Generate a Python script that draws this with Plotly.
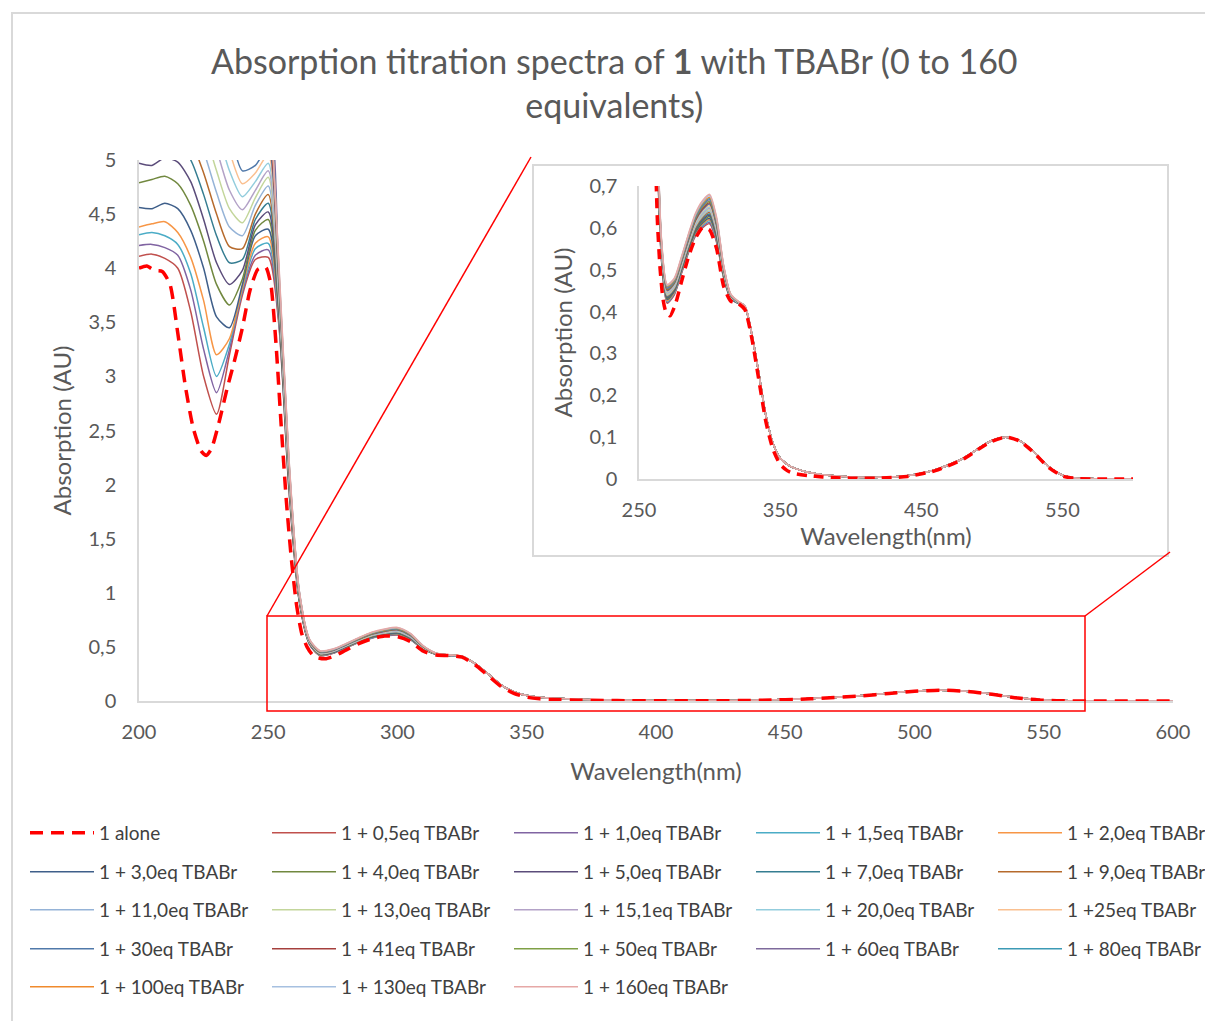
import plotly.graph_objects as go

# wavelength grids (nm)
WL_UV = [200, 205, 210, 215, 220, 225, 230, 235, 240, 245, 250]
WL_BAND = [254, 258, 262, 266, 270, 275, 280, 285, 290, 295, 300, 305, 310, 315, 320, 325]
WL_VIS = [330, 335, 340, 345, 350, 355, 360, 370, 380, 390, 400, 420, 440, 460, 480, 490,
          500, 510, 520, 530, 540, 550, 560, 570, 580, 600]

# compound 1 alone
WL_FREE = [200, 203, 206, 209, 212, 215, 218, 221, 224, 226, 228, 231, 234, 237, 240, 243, 246,
           249, 251, 253, 255, 257, 259, 261, 263, 265, 267, 269, 272, 276, 280, 285, 290, 295,
           300, 305, 310, 315, 320, 325, 330, 335, 340, 345, 350, 355, 360, 370, 380, 390, 400,
           420, 440, 460, 480, 490, 500, 510, 520, 530, 540, 550, 560, 570, 580, 600]
ABS_FREE = [4.00, 4.02, 3.98, 3.97, 3.85, 3.40, 2.90, 2.52, 2.31, 2.27, 2.33, 2.58, 2.88, 3.15,
            3.45, 3.80, 3.99, 4.01, 3.85, 3.30, 2.55, 1.85, 1.30, 0.88, 0.62, 0.50, 0.43, 0.40,
            0.39, 0.42, 0.47, 0.53, 0.575, 0.60, 0.595, 0.55, 0.46, 0.425, 0.42, 0.405, 0.335,
            0.235, 0.135, 0.07, 0.035, 0.02, 0.013, 0.008, 0.005, 0.003, 0.002, 0.002, 0.006,
            0.02, 0.048, 0.07, 0.09, 0.10, 0.09, 0.062, 0.028, 0.007, 0.001, 0.0, 0.0, 0.0]

SALT_LABELS = ["1 + 0,5eq TBABr", "1 + 1,0eq TBABr", "1 + 1,5eq TBABr", "1 + 2,0eq TBABr",
               "1 + 3,0eq TBABr", "1 + 4,0eq TBABr", "1 + 5,0eq TBABr", "1 + 7,0eq TBABr",
               "1 + 9,0eq TBABr", "1 + 11,0eq TBABr", "1 + 13,0eq TBABr", "1 + 15,1eq TBABr",
               "1 + 20,0eq TBABr", "1 +25eq TBABr", "1 + 30eq TBABr", "1 + 41eq TBABr",
               "1 + 50eq TBABr", "1 + 60eq TBABr", "1 + 80eq TBABr", "1 + 100eq TBABr",
               "1 + 130eq TBABr", "1 + 160eq TBABr"]

UV_ABS = [
    [4.11, 4.13, 4.09, 4.00, 3.60, 3.00, 2.65, 3.20, 3.75, 4.08, 4.10],
    [4.21, 4.22, 4.19, 4.12, 3.80, 3.25, 2.85, 3.25, 3.78, 4.12, 4.17],
    [4.31, 4.33, 4.30, 4.22, 3.95, 3.45, 3.00, 3.30, 3.80, 4.18, 4.23],
    [4.38, 4.41, 4.43, 4.33, 4.10, 3.70, 3.20, 3.35, 3.82, 4.23, 4.29],
    [4.56, 4.55, 4.60, 4.55, 4.35, 4.00, 3.55, 3.45, 3.85, 4.30, 4.36],
    [4.79, 4.82, 4.85, 4.78, 4.58, 4.25, 3.85, 3.66, 3.90, 4.35, 4.45],
    [4.97, 4.95, 5.02, 4.98, 4.80, 4.45, 4.05, 3.85, 3.98, 4.40, 4.52],
    [5.15, 5.18, 5.20, 5.15, 5.00, 4.68, 4.30, 4.05, 4.08, 4.45, 4.60],
    [5.30, 5.35, 5.38, 5.32, 5.18, 4.88, 4.50, 4.20, 4.18, 4.50, 4.68],
    [5.45, 5.50, 5.52, 5.48, 5.35, 5.08, 4.70, 4.38, 4.30, 4.58, 4.76],
    [5.60, 5.65, 5.68, 5.64, 5.52, 5.28, 4.90, 4.55, 4.42, 4.65, 4.84],
    [5.75, 5.80, 5.83, 5.80, 5.70, 5.48, 5.10, 4.72, 4.54, 4.72, 4.90],
    [5.90, 5.95, 6.00, 5.98, 5.88, 5.68, 5.30, 4.90, 4.66, 4.80, 4.97],
    [6.10, 6.15, 6.20, 6.18, 6.08, 5.90, 5.52, 5.08, 4.78, 4.88, 5.05],
    [6.30, 6.35, 6.40, 6.38, 6.30, 6.12, 5.75, 5.28, 4.90, 4.95, 5.12],
    [6.60, 6.65, 6.70, 6.70, 6.62, 6.45, 6.10, 5.60, 5.10, 5.02, 5.20],
    [6.90, 6.95, 7.00, 7.00, 6.95, 6.80, 6.50, 6.00, 5.45, 5.20, 5.30],
    [7.20, 7.25, 7.30, 7.30, 7.25, 7.10, 6.85, 6.40, 5.80, 5.40, 5.40],
    [7.60, 7.65, 7.70, 7.70, 7.65, 7.55, 7.30, 6.90, 6.30, 5.70, 5.50],
    [8.00, 8.00, 8.10, 8.10, 8.05, 8.00, 7.80, 7.40, 6.80, 6.10, 5.60],
    [8.50, 8.50, 8.60, 8.60, 8.55, 8.50, 8.30, 7.90, 7.30, 6.50, 5.70],
    [9.00, 9.00, 9.10, 9.10, 9.05, 9.00, 8.80, 8.40, 7.80, 6.90, 5.80],
]

BAND_ABS = [
    [3.50, 1.95, 0.92, 0.520, 0.420, 0.440, 0.490, 0.540, 0.580, 0.600, 0.610, 0.565, 0.480, 0.430, 0.420, 0.410],
    [3.53, 1.96, 0.92, 0.522, 0.422, 0.442, 0.492, 0.542, 0.583, 0.603, 0.613, 0.568, 0.481, 0.431, 0.420, 0.410],
    [3.56, 1.98, 0.93, 0.525, 0.424, 0.444, 0.494, 0.544, 0.585, 0.606, 0.617, 0.571, 0.483, 0.431, 0.420, 0.410],
    [3.59, 1.99, 0.93, 0.527, 0.426, 0.446, 0.496, 0.546, 0.588, 0.609, 0.620, 0.574, 0.484, 0.432, 0.421, 0.410],
    [3.61, 2.01, 0.94, 0.530, 0.429, 0.448, 0.498, 0.549, 0.590, 0.612, 0.623, 0.576, 0.486, 0.432, 0.421, 0.411],
    [3.64, 2.02, 0.94, 0.532, 0.431, 0.450, 0.500, 0.551, 0.593, 0.615, 0.627, 0.579, 0.487, 0.433, 0.421, 0.411],
    [3.67, 2.04, 0.95, 0.534, 0.433, 0.451, 0.501, 0.553, 0.596, 0.619, 0.630, 0.582, 0.489, 0.433, 0.421, 0.411],
    [3.70, 2.05, 0.95, 0.537, 0.435, 0.453, 0.503, 0.555, 0.598, 0.622, 0.633, 0.585, 0.490, 0.434, 0.422, 0.411],
    [3.73, 2.06, 0.96, 0.539, 0.437, 0.455, 0.505, 0.557, 0.601, 0.625, 0.637, 0.588, 0.491, 0.435, 0.422, 0.411],
    [3.76, 2.08, 0.96, 0.541, 0.439, 0.457, 0.507, 0.559, 0.604, 0.628, 0.640, 0.591, 0.493, 0.435, 0.422, 0.411],
    [3.79, 2.09, 0.97, 0.544, 0.441, 0.459, 0.509, 0.561, 0.606, 0.631, 0.643, 0.594, 0.494, 0.436, 0.422, 0.412],
    [3.81, 2.11, 0.97, 0.546, 0.444, 0.461, 0.511, 0.564, 0.609, 0.634, 0.647, 0.596, 0.496, 0.436, 0.423, 0.412],
    [3.84, 2.12, 0.98, 0.549, 0.446, 0.463, 0.513, 0.566, 0.611, 0.637, 0.650, 0.599, 0.497, 0.437, 0.423, 0.412],
    [3.87, 2.14, 0.98, 0.551, 0.448, 0.465, 0.515, 0.568, 0.614, 0.640, 0.653, 0.602, 0.499, 0.437, 0.423, 0.412],
    [3.90, 2.15, 0.99, 0.553, 0.450, 0.467, 0.517, 0.570, 0.617, 0.643, 0.657, 0.605, 0.500, 0.438, 0.423, 0.412],
    [3.93, 2.16, 0.99, 0.556, 0.452, 0.469, 0.519, 0.572, 0.619, 0.646, 0.660, 0.608, 0.501, 0.439, 0.424, 0.413],
    [3.96, 2.18, 1.00, 0.558, 0.454, 0.470, 0.520, 0.574, 0.622, 0.650, 0.663, 0.611, 0.503, 0.439, 0.424, 0.413],
    [3.99, 2.19, 1.00, 0.560, 0.456, 0.472, 0.522, 0.576, 0.625, 0.653, 0.667, 0.614, 0.504, 0.440, 0.424, 0.413],
    [4.01, 2.21, 1.01, 0.563, 0.459, 0.474, 0.524, 0.579, 0.627, 0.656, 0.670, 0.616, 0.506, 0.440, 0.424, 0.413],
    [4.04, 2.22, 1.01, 0.565, 0.461, 0.476, 0.526, 0.581, 0.630, 0.659, 0.673, 0.619, 0.507, 0.441, 0.425, 0.413],
    [4.07, 2.24, 1.02, 0.568, 0.463, 0.478, 0.528, 0.583, 0.632, 0.662, 0.677, 0.622, 0.509, 0.441, 0.425, 0.414],
    [4.10, 2.25, 1.02, 0.570, 0.465, 0.480, 0.530, 0.585, 0.635, 0.665, 0.680, 0.625, 0.510, 0.442, 0.425, 0.414],
]

VIS_SALT = [0.345, 0.25, 0.15, 0.085, 0.05, 0.035, 0.026, 0.016, 0.01, 0.007, 0.005, 0.004, 0.008,
            0.022, 0.05, 0.072, 0.092, 0.10, 0.091, 0.064, 0.03, 0.009, 0.002, 0.001, 0.0, 0.0]

COLORS = ["#C0504D", "#8064A2", "#4BACC6", "#F79646", "#3F5F8A", "#71883F", "#5B4C7A",
          "#357D91", "#B66A2C", "#95B3D7", "#C3D69B", "#B3A2C7", "#93CDDD", "#FAC090",
          "#5079AA", "#A5403D", "#7FA046", "#7E6A9C", "#3C9AB5", "#F08A2C", "#A6C0E0",
          "#E6A8A6"]

W, H = 1213, 1021
OFF = 8  # page body margin
FONT = "Lato"
GREY = "#595959"


def px(x):
    return (x - OFF) / W


def py(y):
    return 1 - (y - OFF) / H


LEGENDS = ["legend", "legend2", "legend3", "legend4", "legend5"]

fig = go.Figure()

for i, name in enumerate(SALT_LABELS):
    xs = WL_UV + WL_BAND + WL_VIS
    ys = UV_ABS[i] + BAND_ABS[i] + VIS_SALT
    fig.add_trace(go.Scatter(x=xs, y=ys, mode="lines", name=name,
                             line=dict(color=COLORS[i], width=1.5, shape="spline", smoothing=0.7),
                             legend=LEGENDS[(i + 1) // 5], legendrank=i + 2))
    fig.add_trace(go.Scatter(x=xs, y=ys, mode="lines", name=name, showlegend=False,
                             xaxis="x2", yaxis="y2",
                             line=dict(color=COLORS[i], width=1.5, shape="spline", smoothing=0.7)))

fig.add_trace(go.Scatter(x=WL_FREE, y=ABS_FREE, mode="lines", name="1 alone",
                         line=dict(color="#FF0000", width=3.5, dash="13px,8px", shape="spline",
                                   smoothing=0.6),
                         legend="legend", legendrank=1))
fig.add_trace(go.Scatter(x=WL_FREE, y=ABS_FREE, mode="lines", name="1 alone", showlegend=False,
                         xaxis="x2", yaxis="y2",
                         line=dict(color="#FF0000", width=3.5, dash="10px,7px", shape="spline",
                                   smoothing=0.6)))

axis_common = dict(showgrid=False, zeroline=False, ticks="", showline=True,
                   linecolor="#D9D9D9", linewidth=1.5,
                   tickfont=dict(family=FONT, size=20, color=GREY))
title_font = dict(family=FONT, size=24, color=GREY)

legend_rows_y = [833, 872, 910, 949, 987]
legend_layout = {}
for k, lg in enumerate(LEGENDS):
    legend_layout[lg] = dict(orientation="h", x=px(25), xanchor="left", y=py(legend_rows_y[k]),
                             yanchor="middle", entrywidth=163, entrywidthmode="pixels",
                             itemwidth=64,
                             font=dict(family=FONT, size=19, color="#404040"),
                             bgcolor="rgba(0,0,0,0)", traceorder="normal")

fig.update_layout(
    width=W, height=H,
    margin=dict(l=0, r=0, t=0, b=0, autoexpand=False),
    paper_bgcolor="white", plot_bgcolor="rgba(0,0,0,0)",
    separators=", ",
    font=dict(family=FONT, color=GREY),
    xaxis=dict(domain=[px(139), px(1173)], range=[200, 600], dtick=50, tick0=200,
               anchor="y", ticklabelstandoff=12,
               title=dict(text="Wavelength(nm)", font=title_font, standoff=21),
               **axis_common),
    yaxis=dict(domain=[py(701), py(160)], range=[0, 5], dtick=0.5, anchor="x",
               ticklabelstandoff=17,
               title=dict(text="Absorption (AU)", font=title_font, standoff=10),
               **axis_common),
    xaxis2=dict(domain=[px(639), px(1133)], range=[250, 600], dtick=100, tick0=250,
                anchor="y2", ticklabelstandoff=12,
                title=dict(text="Wavelength(nm)", font=title_font, standoff=7),
                **axis_common),
    yaxis2=dict(domain=[py(479), py(186)], range=[0, 0.7], dtick=0.1, anchor="x2",
                ticklabelstandoff=16,
                title=dict(text="Absorption (AU)", font=title_font, standoff=10),
                **axis_common),
    showlegend=True,
    **legend_layout,
)

fig.add_annotation(text="Absorption titration spectra of <b>1</b> with TBABr (0 to 160<br>equivalents)",
                   x=px(615), y=py(38), xref="paper", yref="paper", showarrow=False,
                   xanchor="center", yanchor="top",
                   font=dict(family=FONT, size=34, color=GREY), align="center")

# outer chart frame
fig.add_shape(type="rect", xref="paper", yref="paper", x0=px(12), y0=py(1040), x1=px(1240),
              y1=py(13), line=dict(color="#D9D9D9", width=2), layer="below")
# inset frame
fig.add_shape(type="rect", xref="paper", yref="paper", x0=px(533), y0=py(556), x1=px(1168),
              y1=py(165), line=dict(color="#D9D9D9", width=2), fillcolor="white", layer="below")
# zoom box and connectors
fig.add_shape(type="rect", xref="paper", yref="paper", x0=px(267), y0=py(711), x1=px(1085),
              y1=py(616), line=dict(color="#FF0000", width=1.5), layer="above")
fig.add_shape(type="line", xref="paper", yref="paper", x0=px(267), y0=py(616), x1=px(531),
              y1=py(157), line=dict(color="#FF0000", width=1.5), layer="above")
fig.add_shape(type="line", xref="paper", yref="paper", x0=px(1085), y0=py(616), x1=px(1170),
              y1=py(552), line=dict(color="#FF0000", width=1.5), layer="above")

fig.write_html("out.html")
